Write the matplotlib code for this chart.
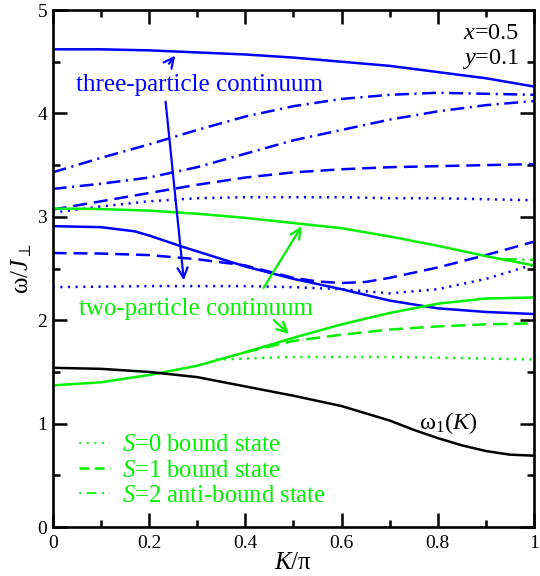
import matplotlib
matplotlib.use("Agg")
import matplotlib.pyplot as plt
from matplotlib.lines import Line2D
from matplotlib.ticker import MultipleLocator

plt.rcParams['font.family'] = ['Liberation Serif', 'DejaVu Serif']
plt.rcParams['mathtext.fontset'] = 'custom'
plt.rcParams['mathtext.rm'] = 'Liberation Serif'
plt.rcParams['mathtext.it'] = 'Liberation Serif:italic'
plt.rcParams['lines.scale_dashes'] = False

BLUE = '#0000ff'
GREEN = '#00f000'

K = [0.0, 0.1, 0.2, 0.3, 0.4, 0.5, 0.6, 0.7, 0.8, 0.9, 1.0]

# three-particle continuum edges and bound states (blue)
three_upper = [4.62, 4.62, 4.61, 4.59, 4.57, 4.54, 4.50, 4.46, 4.40, 4.34, 4.26]
K_three_lower = [0.0, 0.1, 0.17, 0.2, 0.27, 0.4, 0.5, 0.6, 0.7, 0.8, 0.9, 1.0]
three_lower = [2.91, 2.90, 2.86, 2.82, 2.71, 2.52, 2.40, 2.30, 2.19, 2.115, 2.08, 2.06]
three_dashdot_a = [3.43, 3.57, 3.70, 3.84, 3.97, 4.07, 4.14, 4.18, 4.20, 4.19, 4.18]
three_dashdot_b = [3.27, 3.32, 3.38, 3.48, 3.61, 3.74, 3.84, 3.94, 4.02, 4.08, 4.12]
three_dashed_a = [3.07, 3.15, 3.23, 3.31, 3.38, 3.43, 3.46, 3.48, 3.49, 3.50, 3.51]
three_dotted_a = [3.04, 3.10, 3.15, 3.18, 3.19, 3.19, 3.19, 3.18, 3.18, 3.17, 3.16]
K_dashed_b = [0.0, 0.1, 0.2, 0.3, 0.4, 0.45, 0.5, 0.55, 0.6, 0.65, 0.7, 0.8, 0.9, 1.0]
three_dashed_b = [2.65, 2.645, 2.63, 2.59, 2.53, 2.47, 2.41, 2.375, 2.36, 2.37, 2.41, 2.51, 2.63, 2.76]
K_dotted_b = [0.0, 0.2, 0.4, 0.5, 0.6, 0.7, 0.8, 0.9, 1.0]
three_dotted_b = [2.32, 2.33, 2.33, 2.32, 2.30, 2.26, 2.30, 2.40, 2.54]

# two-particle continuum edges and bound states (green)
two_upper = [3.08, 3.075, 3.06, 3.03, 2.99, 2.94, 2.89, 2.81, 2.72, 2.62, 2.53]
two_lower = [1.37, 1.40, 1.47, 1.56, 1.69, 1.83, 1.96, 2.07, 2.16, 2.21, 2.22]
K_s1 = [0.4, 0.5, 0.6, 0.7, 0.8, 0.9, 1.0]
s1_bound = [1.69, 1.80, 1.86, 1.91, 1.94, 1.96, 1.97]
K_s0 = [0.34, 0.5, 0.7, 0.9, 1.0]
s0_bound = [1.62, 1.645, 1.645, 1.63, 1.62]
K_s2 = [0.935, 1.0]
s2_antibound = [2.59, 2.585]

# one-particle dispersion (black)
K_w1 = [0.0, 0.1, 0.2, 0.3, 0.4, 0.5, 0.6, 0.7, 0.75, 0.8, 0.85, 0.9, 0.95, 1.0]
w1 = [1.54, 1.53, 1.50, 1.45, 1.36, 1.27, 1.17, 1.03, 0.94, 0.86, 0.79, 0.735, 0.70, 0.69]

x_ticks = [0.0, 0.2, 0.4, 0.6, 0.8, 1.0]
x_tick_labels = ['0', '0.2', '0.4', '0.6', '0.8', '1']
y_ticks = [0, 1, 2, 3, 4, 5]
y_tick_labels = ['0', '1', '2', '3', '4', '5']
legend_labels = ['$S$=0 bound state', '$S$=1 bound state', '$S$=2 anti-bound state']

DOT = (0, (1.5, 4.0))
DASH = (0, (10, 5))
DASHDOT = (0, (10, 4, 1.5, 4))

fig = plt.figure(figsize=(5.4, 5.76), dpi=100)
ax = fig.add_axes([0.0976, 0.085, 0.8914, 0.8976])
lw = 1.8

ax.plot(K, three_upper, color=BLUE, lw=lw)
ax.plot(K_three_lower, three_lower, color=BLUE, lw=lw)
ax.plot(K, three_dashdot_a, color=BLUE, lw=lw, linestyle=DASHDOT)
ax.plot(K, three_dashdot_b, color=BLUE, lw=lw, linestyle=DASHDOT)
ax.plot(K, three_dashed_a, color=BLUE, lw=lw, linestyle=DASH)
ax.plot(K_dashed_b, three_dashed_b, color=BLUE, lw=lw, linestyle=DASH)
ax.plot(K, three_dotted_a, color=BLUE, lw=lw, linestyle=DOT)
ax.plot(K_dotted_b, three_dotted_b, color=BLUE, lw=lw, linestyle=DOT)

ax.plot(K, two_upper, color=GREEN, lw=lw)
ax.plot(K, two_lower, color=GREEN, lw=lw)
ax.plot(K_s1, s1_bound, color=GREEN, lw=lw, linestyle=DASH)
ax.plot(K_s0, s0_bound, color=GREEN, lw=lw, linestyle=DOT)
ax.plot(K_s2, s2_antibound, color=GREEN, lw=lw, linestyle=DASHDOT)

ax.plot(K_w1, w1, color='black', lw=lw)

ax.set_xlim(0, 1)
ax.set_ylim(0, 5)
ax.set_xticks(x_ticks, x_tick_labels)
ax.set_yticks(y_ticks, y_tick_labels)
ax.xaxis.set_minor_locator(MultipleLocator(0.1))
ax.yaxis.set_minor_locator(MultipleLocator(0.5))
ax.tick_params(which='both', direction='in', top=True, right=True, width=1.8, labelsize=14)
ax.tick_params(which='major', length=10)
ax.tick_params(which='minor', length=5)
ax.tick_params(axis='x', pad=6)
ax.tick_params(axis='y', pad=4)
for s in ax.spines.values():
    s.set_linewidth(1.9)

ax.set_xlabel('$K$/π', fontsize=18, labelpad=0)
ax.set_ylabel('ω/$J_{\\perp}$', fontsize=18, labelpad=2)

# annotations
ax.text(0.305, 4.22, 'three-particle continuum', color=BLUE, fontsize=18, ha='center', va='baseline')
ax.annotate('', xy=(0.258, 4.58), xytext=(0.238, 4.46),
            arrowprops=dict(arrowstyle='->', color=BLUE, lw=1.6, mutation_scale=18))
ax.annotate('', xy=(0.273, 2.36), xytext=(0.234, 4.14),
            arrowprops=dict(arrowstyle='->', color=BLUE, lw=1.6, mutation_scale=18))

ax.text(0.298, 2.05, 'two-particle continuum', color=GREEN, fontsize=18, ha='center', va='baseline')
ax.annotate('', xy=(0.52, 2.93), xytext=(0.435, 2.29),
            arrowprops=dict(arrowstyle='->', color=GREEN, lw=1.6, mutation_scale=18))
ax.annotate('', xy=(0.495, 1.85), xytext=(0.455, 2.02),
            arrowprops=dict(arrowstyle='->', color=GREEN, lw=1.6, mutation_scale=18))

ax.text(0.76, 0.95, 'ω$_1$($K$)', fontsize=17.5, ha='left', va='baseline')
ax.text(0.969, 4.72, '$x$=0.5', fontsize=17.5, ha='right', va='baseline')
ax.text(0.969, 4.48, '$y$=0.1', fontsize=17.5, ha='right', va='baseline')

handles = [Line2D([], [], color=GREEN, lw=1.2, linestyle=(0, (1.5, 4))),
           Line2D([], [], color=GREEN, lw=1.8, linestyle=(0, (7, 4))),
           Line2D([], [], color=GREEN, lw=1.2, linestyle=(0, (1.5, 4, 7, 4)))]
ax.legend(handles, legend_labels, loc='lower left', bbox_to_anchor=(0.019, 0.006),
          frameon=False, fontsize=17.7, labelcolor=GREEN, handlelength=1.25,
          handletextpad=0.5, labelspacing=0.12, borderaxespad=0.3)

fig.savefig('out.png', dpi=100)
